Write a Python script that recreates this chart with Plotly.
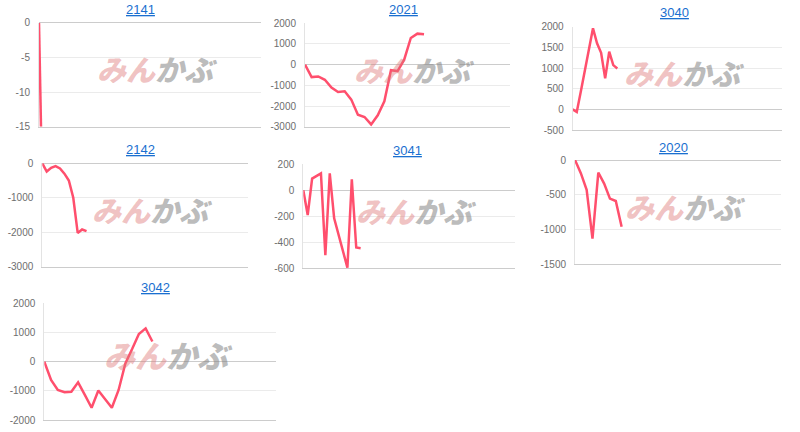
"""Petits graphiques P&L par code (Plotly)."""

import plotly.graph_objects as go

# Codes et séries
codes = ["2141", "2021", "3040", "2142", "3041", "2020", "3042"]

pnl_2141 = [0, -15]
pnl_2021 = [0, -600, -570, -730, -1110, -1320, -1290, -1690, -2420, -2530,
            -2890, -2450, -1770, -270, -310, 240, 1290, 1500, 1470]
pnl_3040 = [0, -65, 430, 910, 1435, 1960, 1600, 1370, 750, 1395, 1070, 990]
pnl_2142 = [0, -240, -130, -80, -150, -300, -500, -1000, -2020, -1920, -1970]
pnl_3041 = [0, -190, 90, 110, 130, -500, 130, -215, -340, -470, -595, 85,
            -440, -445]
pnl_2020 = [0, -190, -430, -1130, -180, -340, -555, -590, -960]
pnl_3042 = [0, -630, -970, -1050, -1030, -710, -1140, -1580, -990, -1280,
            -1580, -970, -60, 430, 950, 1140, 690]

series = [pnl_2141, pnl_2021, pnl_3040, pnl_2142, pnl_3041, pnl_2020, pnl_3042]

# Échelles des axes
x_spans = [111, 31, 51.5, 46.5, 48, 35.3, 34.3]
y_ranges = [(-15, 0), (-3000, 2000), (-500, 2000), (-3000, 0), (-600, 200),
            (-1500, 0), (-2000, 2000)]
y_dticks = [5, 1000, 500, 1000, 200, 500, 1000]

# Géométrie des panneaux en pixels : (x0, x1, y_haut, y_bas, titre_x, titre_y)
W, H = 800, 432
panels = [
    (39, 261, 22.7, 126.7, 140, 9),
    (305, 510, 23.3, 126.7, 403, 9),
    (572.7, 781.7, 26.7, 130, 674, 12),
    (42.3, 248, 163.3, 266.7, 140, 149),
    (303.3, 515, 164.3, 268.3, 407, 150),
    (575, 780.7, 160, 264.3, 673, 147),
    (44.3, 276, 303.3, 420, 155, 287),
]

LINE = "#ff4f6d"
GRID = "#ebebeb"
BASE = "#cccccc"
TICK_FONT = dict(family="Liberation Sans, Arial", size=10, color="#6e6e6e")

fig = go.Figure()
layout = {}
annotations = []

for i, (code, ys) in enumerate(zip(codes, series)):
    n = i + 1
    sfx = "" if n == 1 else str(n)
    x0, x1, yt, yb, tx, ty = panels[i]
    lo, hi = y_ranges[i]
    tickvals = list(range(lo, hi + 1, y_dticks[i]))

    fig.add_trace(go.Scatter(
        x=list(range(len(ys))), y=ys,
        mode="lines", line=dict(color=LINE, width=2.5),
        xaxis=f"x{sfx}", yaxis=f"y{sfx}", showlegend=False,
        hoverinfo="skip",
    ))

    layout[f"xaxis{sfx}"] = dict(
        domain=[x0 / W, x1 / W], anchor=f"y{sfx}",
        range=[0, x_spans[i]], showgrid=False, zeroline=False,
        showticklabels=False, showline=True, linecolor=BASE, linewidth=1,
        automargin=False, fixedrange=True,
    )
    # libellés avec un tiret simple (pas le signe moins unicode)
    layout[f"yaxis{sfx}"] = dict(
        domain=[1 - yb / H, 1 - yt / H], anchor=f"x{sfx}",
        range=[lo, hi], tickvals=tickvals,
        ticktext=[str(v) for v in tickvals],
        showgrid=True, gridcolor=GRID, gridwidth=1,
        zeroline=True, zerolinecolor=BASE, zerolinewidth=1,
        showline=True, linecolor="#e3e3e3", linewidth=1,
        ticks="", ticklabelstandoff=6, tickfont=TICK_FONT,
        automargin=False, fixedrange=True,
    )

    # Titre (lien souligné)
    annotations.append(dict(
        text=f"<u>{code}</u>", x=tx / W, y=1 - ty / H,
        xref="paper", yref="paper", xanchor="center", yanchor="middle",
        showarrow=False,
        font=dict(family="Liberation Sans, Arial", size=13, color="#1a6fd0"),
    ))

    # Filigrane みんかぶ
    annotations.append(dict(
        text=("<i><span style='color:rgba(222,120,120,0.45)'>みん</span>"
              "<span style='color:rgba(130,130,130,0.55)'>かぶ</span></i>"),
        x=0.535, y=0.56,
        xref=f"x{sfx} domain", yref=f"y{sfx} domain",
        xanchor="center", yanchor="middle", showarrow=False,
        font=dict(family="Noto Sans CJK JP", size=31 if n == 7 else 29,
                  weight=900),
    ))

fig.update_layout(
    **layout,
    annotations=annotations,
    width=W, height=H,
    margin=dict(l=0, r=0, t=0, b=0, autoexpand=False),
    paper_bgcolor="white", plot_bgcolor="white",
    showlegend=False,
)

# pas de marge autour du graphique dans la page
fig.write_html("out.html", config={"displayModeBar": False},
               post_script="document.body.style.margin = '0';")
